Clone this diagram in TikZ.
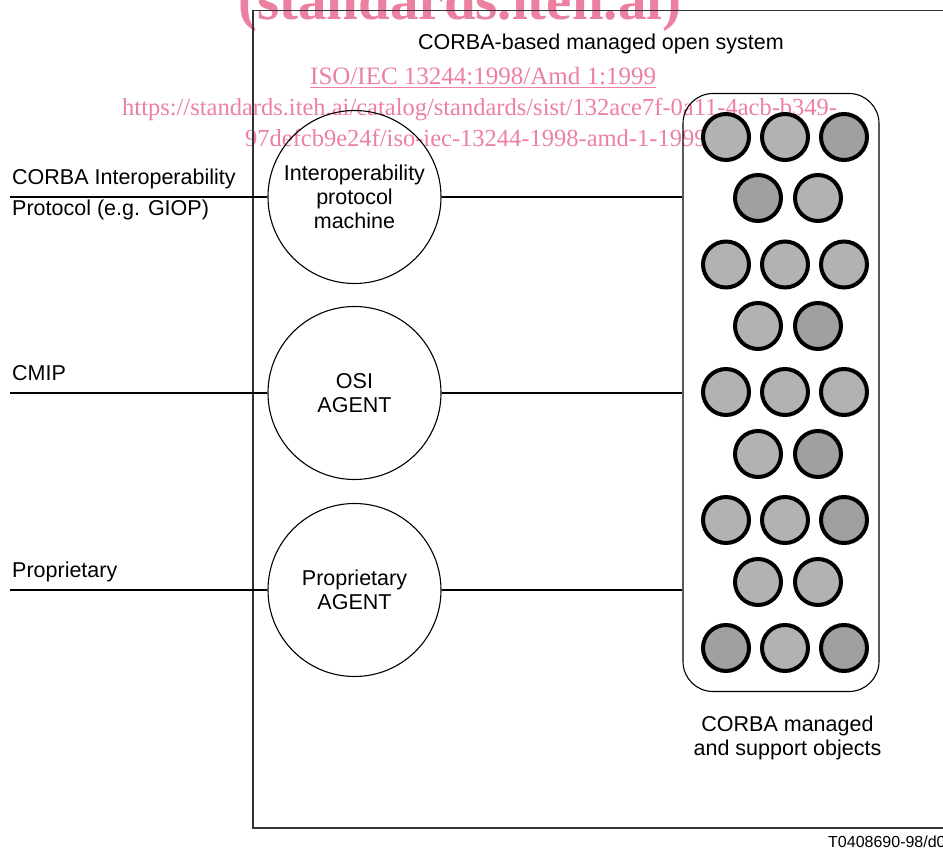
\documentclass[tikz,border=0pt]{standalone}
\usepackage{fontspec}
\setmainfont{Liberation Sans}
\newfontfamily\wmfont{Liberation Serif}
\definecolor{wmpink}{RGB}{236,128,160}
\definecolor{objlight}{RGB}{178,178,178}
\definecolor{objdark}{RGB}{160,160,160}

\begin{document}
\begin{tikzpicture}[x=1pt, y=-1pt,
    lbl/.style={font=\fontsize{21.5}{24}\selectfont, inner sep=0pt},
    agent/.style={draw, circle, line width=1.1pt, minimum size=173pt, inner sep=0pt,
      align=center, font=\fontsize{21.5}{24}\selectfont},
    obj/.style={draw, circle, line width=4pt, minimum size=46pt, inner sep=0pt},
    link/.style={line width=1.8pt},
    wm/.style={text=wmpink, inner sep=0pt, anchor=base west}]
    \clip (0,0) rectangle (943,848);
    \useasboundingbox (0,0) rectangle (943,848);
    \node[wm, font=\wmfont\bfseries\fontsize{57}{60}\selectfont] (wmsite) at (238,20) {(standards.iteh.ai)};
    \node[wm, font=\wmfont\fontsize{25}{28}\selectfont] (wmiso) at (310,85) {\underline{ISO/IEC 13244:1998/Amd 1:1999}};
    \node[wm, font=\wmfont\fontsize{24.5}{28}\selectfont] (wmurl) at (122,116) {https://standards.iteh.ai/catalog/standards/sist/132ace7f-0a11-4acb-b349-};
    \node[wm, font=\wmfont\fontsize{24.5}{28}\selectfont] (wmurlb) at (245,147) {97defcb9e24f/iso-iec-13244-1998-amd-1-1999};
    \draw [line width=1.4pt, draw=black!80] (253,10.5) rectangle (990,828);
    \node[lbl, anchor=base west] (sysname) at (418,50) {CORBA-based managed open system};
    \node[agent] (ipm) at (354.5,197) {Interoperability\\protocol\\machine};
    \node[agent] (osi) at (354.5,393) {OSI\\AGENT};
    \node[agent] (prop) at (354.5,590) {Proprietary\\AGENT};
    \node[draw, rounded corners=30pt, line width=1.1pt, minimum width=196pt, minimum height=598pt] (objs) at (781,392.5) {};
    \coordinate (giop) at (10,197);
    \coordinate (cmip) at (10,393);
    \coordinate (prot) at (10,590);
    \draw [link] (giop) -- (ipm);
    \draw [link] (cmip) -- (osi);
    \draw [link] (prot) -- (prop);
    \draw [link] (ipm) -- (objs.west |- ipm);
    \draw [link] (osi) -- (objs.west |- osi);
    \draw [link] (prop) -- (objs.west |- prop);
    \node[lbl, anchor=base west] (giopa) at (12,185) {CORBA Interoperability};
    \node[lbl, anchor=base west] (giopb) at (12,215) {Protocol (e.g. GIOP)};
    \node[lbl, anchor=base west] (cmipl) at (12,380) {CMIP};
    \node[lbl, anchor=base west] (propl) at (12,577) {Proprietary};
    \foreach \x/\y/\c [count=\i] in {726/137/objlight, 785/137/objlight, 844/137/objdark,
        758/198/objdark, 818/198/objlight,
        726/264.5/objlight, 785/264.5/objlight, 844/264.5/objlight,
        758/326/objlight, 818/326/objdark,
        726/392/objlight, 785/392/objlight, 844/392/objlight,
        758/454/objlight, 818/454/objdark,
        726/520/objlight, 785/520/objlight, 844/520/objdark,
        758/582/objlight, 818/582/objlight,
        726/648/objdark, 785/648/objlight, 844/648/objdark}
      \node[obj, fill=\c] (obj\i) at (\x,\y) {};
    \node[lbl, align=center] (objsl) at (787.5,738) {CORBA managed\\and support objects};
    \node[anchor=base west, inner sep=0pt, font=\fontsize{16}{18}\selectfont] (figid) at (828,847) {T0408690-98/d0};
  \end{tikzpicture}
\end{document}
